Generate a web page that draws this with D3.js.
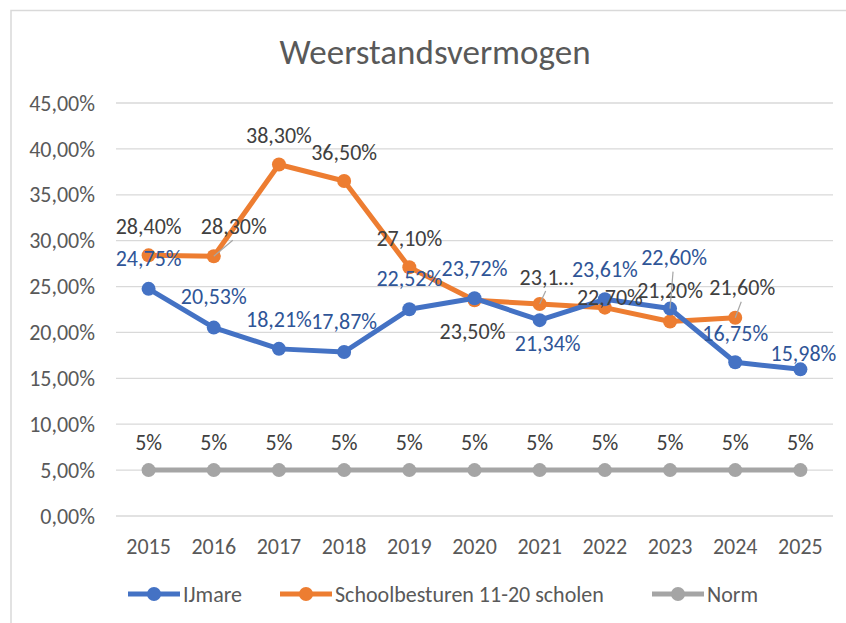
<!DOCTYPE html>
<html>
<head>
<meta charset="utf-8">
<script src="https://cdn.jsdelivr.net/npm/d3@7"></script>
<style>
  body { margin: 0; background: #fff; }
  text { font-family: Carlito, Calibri, "Open Sans", sans-serif; }
</style>
</head>
<body>
<div id="chart"></div>
<script>
// data
var years = ["2015", "2016", "2017", "2018", "2019", "2020", "2021", "2022", "2023", "2024", "2025"];
var ijmare = [24.75, 20.53, 18.21, 17.87, 22.52, 23.72, 21.34, 23.61, 22.60, 16.75, 15.98];
var schoolbesturen = [28.40, 28.30, 38.30, 36.50, 27.10, 23.50, 23.10, 22.70, 21.20, 21.60, null];
var norm = [5, 5, 5, 5, 5, 5, 5, 5, 5, 5, 5];
var yTicks = [0, 5, 10, 15, 20, 25, 30, 35, 40, 45];
var seriesNames = ["IJmare", "Schoolbesturen 11-20 scholen", "Norm"];

// label placement (offset from the point, px) and leader lines
var blueLabelPos = [[0,-31],[0,-31],[0,-30],[0,-31],[0,-31],[0,-30],[8,23],[0,-30],[4,-51],[0,-29],[3,-16]];
var blueLeader = [false,false,false,false,false,false,false,false,true,false,false];
var orangeLabelPos = [[0,-29],[20,-30],[0,-29],[0,-29],[0,-29],[-2,31],[7,-27],[5,-10],[0,-31],[7,-30],[0,0]];
var orangeLeader = [false,true,false,false,false,false,true,false,false,true,false];
var orangeTruncated = [false,false,false,false,false,false,true,false,false,false,false];

var svgWidth = 846;
var svgHeight = 623;
var margin = { top: 103, right: 13, bottom: 107, left: 116 };
var width = svgWidth - margin.left - margin.right;
var height = svgHeight - margin.top - margin.bottom;

var blue = "#4472C4", orange = "#ED7D31", grey = "#A5A5A5";
var fs = 22;

var svg = d3.select("#chart")
  .append("svg")
  .attr("width", svgWidth)
  .attr("height", svgHeight);

// chart border
svg.append("rect")
  .attr("x", 11).attr("y", 10.5)
  .attr("width", svgWidth + 20).attr("height", svgHeight + 20)
  .attr("fill", "none")
  .attr("stroke", "#D9D9D9")
  .attr("stroke-width", 1.5);

svg.append("text")
  .attr("x", 435).attr("y", 52)
  .attr("dy", "0.35em")
  .attr("text-anchor", "middle")
  .attr("fill", "#595959")
  .style("font-size", "35px")
  .text("Weerstandsvermogen");

var chartGroup = svg.append("g")
  .attr("transform", `translate(${margin.left}, ${margin.top})`);

var x = d3.scalePoint().domain(years).range([0, width]).padding(0.5);
var y = d3.scaleLinear().domain([0, 45]).range([height, 0]);

var fmt = function (v) { return d3.format(".2f")(v).replace(".", ",") + "%"; };

// gridlines + y axis labels
chartGroup.append("g")
  .selectAll("line")
  .data(yTicks)
  .enter()
  .append("line")
  .attr("x1", 0).attr("x2", width)
  .attr("y1", d => y(d)).attr("y2", d => y(d))
  .attr("stroke", "#D9D9D9")
  .attr("stroke-width", 1.3);

chartGroup.append("g")
  .selectAll("text")
  .data(yTicks)
  .enter()
  .append("text")
  .attr("x", -21)
  .attr("y", d => y(d))
  .attr("dy", "0.35em")
  .attr("text-anchor", "end")
  .attr("fill", "#595959")
  .style("font-size", fs + "px")
  .text(d => fmt(d));

// x axis labels
chartGroup.append("g")
  .selectAll("text")
  .data(years)
  .enter()
  .append("text")
  .attr("x", d => x(d))
  .attr("y", height + 30)
  .attr("dy", "0.35em")
  .attr("text-anchor", "middle")
  .attr("fill", "#595959")
  .style("font-size", fs + "px")
  .text(d => d);

function drawSeries(values, color) {
  var pts = years.map((yr, i) => ({ yr: yr, v: values[i], i: i })).filter(d => d.v !== null);
  var line = d3.line().x(d => x(d.yr)).y(d => y(d.v));
  chartGroup.append("path")
    .datum(pts)
    .attr("d", line)
    .attr("fill", "none")
    .attr("stroke", color)
    .attr("stroke-width", 5)
    .attr("stroke-linejoin", "round");
  chartGroup.append("g")
    .selectAll("circle")
    .data(pts)
    .enter()
    .append("circle")
    .attr("cx", d => x(d.yr))
    .attr("cy", d => y(d.v))
    .attr("r", 7)
    .attr("fill", color);
  return pts;
}

var normPts = drawSeries(norm, grey);
var orangePts = drawSeries(schoolbesturen, orange);
var bluePts = drawSeries(ijmare, blue);

function drawLabels(pts, pos, leader, color, textFn) {
  var g = chartGroup.append("g");
  pts.forEach(function (d) {
    var px = x(d.yr), py = y(d.v);
    var lx = px + pos[d.i][0], ly = py + pos[d.i][1];
    if (leader && leader[d.i]) {
      g.append("line")
        .attr("x1", px).attr("y1", py)
        .attr("x2", lx - 1).attr("y2", ly + 14)
        .attr("stroke", "#A6A6A6")
        .attr("stroke-width", 1.2);
    }
    g.append("text")
      .attr("x", lx).attr("y", ly)
      .attr("dy", "0.35em")
      .attr("text-anchor", "middle")
      .attr("fill", color)
      .style("font-size", fs + "px")
      .text(textFn(d));
  });
}

drawLabels(normPts, normPts.map(() => [0, -28]), null, "#404040", d => d.v + "%");
drawLabels(orangePts, orangeLabelPos, orangeLeader, "#404040",
  d => orangeTruncated[d.i] ? fmt(d.v).slice(0, 4) + "\u2026" : fmt(d.v));
drawLabels(bluePts, blueLabelPos, blueLeader, "#2F5597", d => fmt(d.v));

// legend
var legendX = [128, 280, 652];
var legendColors = [blue, orange, grey];
var legend = svg.append("g").attr("transform", "translate(0, 594)");
seriesNames.forEach(function (name, i) {
  var lg = legend.append("g").attr("transform", `translate(${legendX[i]}, 0)`);
  lg.append("line")
    .attr("x1", 0).attr("x2", 52)
    .attr("stroke", legendColors[i])
    .attr("stroke-width", 5);
  lg.append("circle")
    .attr("cx", 26).attr("r", 7)
    .attr("fill", legendColors[i]);
  lg.append("text")
    .attr("x", 55)
    .attr("dy", "0.35em")
    .attr("fill", "#595959")
    .style("font-size", fs + "px")
    .text(name);
});
</script>
</body>
</html>
